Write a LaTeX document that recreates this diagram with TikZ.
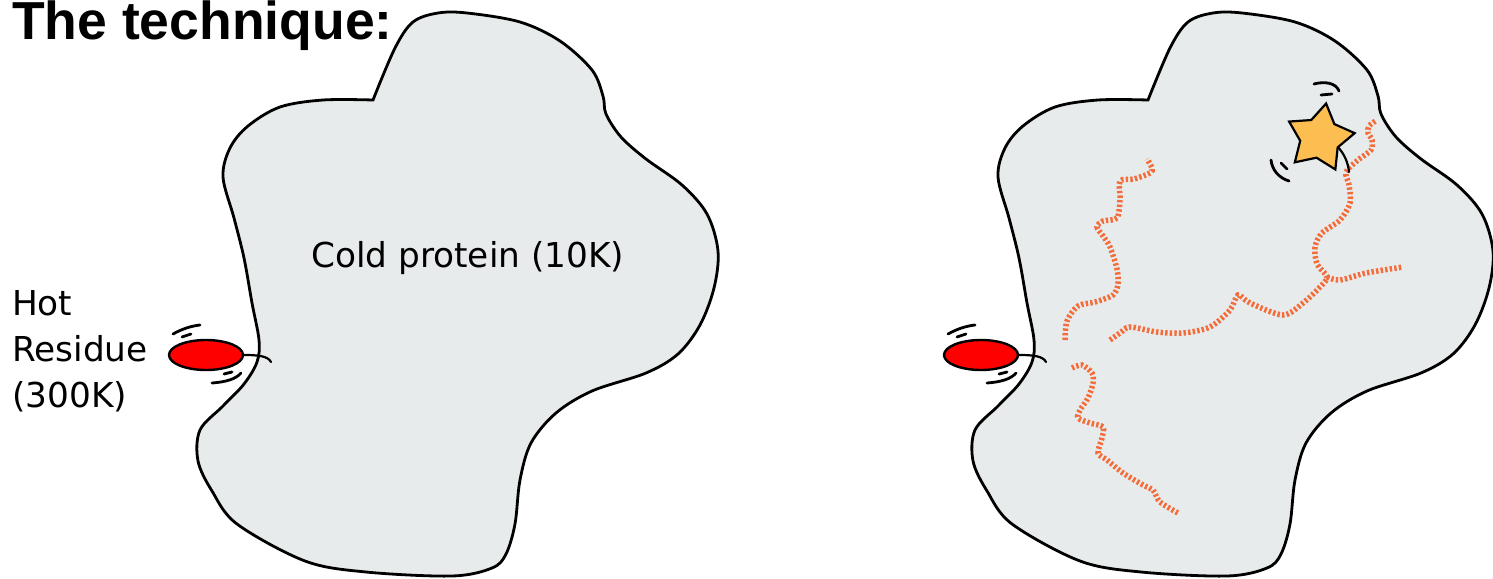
\documentclass[tikz,border=0pt]{standalone}
\usepackage{fontspec}
\setmainfont{DejaVu Sans}
\newfontfamily\titlefont{Liberation Sans}
\usetikzlibrary{shapes.geometric}

\definecolor{proteingrey}{RGB}{232,235,236}
\definecolor{hotred}{RGB}{255,0,0}
\definecolor{flowcolor}{RGB}{243,108,58}
\definecolor{stargold}{RGB}{252,190,80}

\begin{document}
\begin{tikzpicture}[
    x=1pt, y=-1pt,
    protein/.style={draw=black, line width=2.8pt, fill=proteingrey},
    residue/.style={ellipse, draw=black, line width=2.4pt, fill=hotred,
        minimum width=74pt, minimum height=30pt, inner sep=0pt},
    jiggle/.style={line width=2.8pt, line cap=round},
    tail/.style={line width=2.2pt, line cap=round},
    flow/.style={draw=flowcolor, line width=5.5pt, dash pattern=on 2.4pt off 2.2pt},
    label/.style={inner sep=0pt, font=\fontsize{34.3}{46}\selectfont}
]
\useasboundingbox (0,0) rectangle (1493,578);

% Proteins, each with its hot residue
\foreach \dx/\tag in {0/L, 775/R}{
  \begin{scope}[xshift=\dx]
    \draw[protein] plot[smooth, tension=0.55] coordinates {
      (373,100) (395,48) (413,22) (438,13) (467,13) (520,22) (560,41)
      (592,70) (603,96) (606,114) (621,137) (646,159) (682,185) (707,214)
      (718,251) (714,288) (700,325) (678,354) (646,373) (592,391) (556,413)
      (531,443) (520,480) (515,524) (506,554) (492,568) (452,576) (366,572)
      (305,561) (237,524) (212,491) (198,461) (200,430) (223,406) (244,384)
      (257,362) (259,340) (252,303) (244,258) (234,218) (223,177) (230,148)
      (248,126) (280,107) (323,100) (373,100)} -- cycle;
    \node[residue] (hot\tag) at (206,355) {};
    \coordinate (grip\tag) at (271,362);
    \draw[tail] (hot\tag.east) .. controls (258,355) and (268,356) .. (grip\tag);
    % jiggle marks
    \draw[jiggle] (173,334) .. controls (182,329) and (191,326) .. (200,325);
    \draw[jiggle] (182,337) -- (191,334);
    \draw[jiggle] (212,383) .. controls (226,382) and (236,379) .. (241,373);
    \draw[jiggle] (224,374) -- (232,372);
  \end{scope}
}

% Labels
\node[font=\titlefont\bfseries\fontsize{53.5}{60}\selectfont, anchor=base west,
    inner sep=0pt] (title) at (12,40) {The technique:};
\node[label, anchor=base west] (cold) at (311,267) {Cold protein (10K)};
\node[label, anchor=north west, align=left] (hotlabel) at (12,290)
    {Hot\\Residue\\(300K)};

% Energy flow paths
\draw[flow] plot[smooth] coordinates {
  (1065,340) (1067,321) (1078,306) (1095,302) (1113,295) (1118,284)
  (1117,269) (1110,247) (1103,236) (1097,227) (1103,221) (1117,218)
  (1120,199) (1120,181) (1134,179) (1150,173) (1152,168) (1147,159)};
\draw[flow] plot[smooth] coordinates {
  (1110,340) (1120,333) (1130,327) (1157,332) (1183,333) (1210,327)
  (1230,310) (1238,295) (1250,303) (1283,315) (1303,303) (1320,287)
  (1327,277) (1317,264) (1315,247) (1322,233) (1340,220) (1350,203)
  (1349,185) (1346,172) (1358,160) (1371,150) (1372,140) (1368,133)
  (1369,126) (1377,120)};
\draw[flow] plot[smooth] coordinates {
  (1327,277) (1340,280) (1366,273) (1403,267)};
\draw[flow] plot[smooth] coordinates {
  (1072,368) (1082,365) (1092,373) (1093,383) (1088,398) (1080,410)
  (1078,418) (1090,423) (1103,427) (1102,438) (1098,453) (1107,460)
  (1123,473) (1143,485) (1153,490) (1160,502) (1178,513)};

% Excited site
\node[star, star points=5, star point ratio=1.75, shape border rotate=-10,
    minimum size=70pt, inner sep=0pt, draw=black, line width=2.2pt,
    fill=stargold] (site) at (1320,138) {};
\coordinate (tipS) at (1349,172);
\draw[tail] (site.inner point 4) .. controls (1344,154) and (1348,162) .. (tipS);
\draw[jiggle] (1314,84) .. controls (1325,81) and (1336,83) .. (1339,91);
\draw[jiggle] (1321,95) -- (1332,94);
\draw[jiggle] (1271,160) .. controls (1272,170) and (1279,178) .. (1289,181);
\draw[jiggle] (1281,163) -- (1287,169);

\end{tikzpicture}
\end{document}
